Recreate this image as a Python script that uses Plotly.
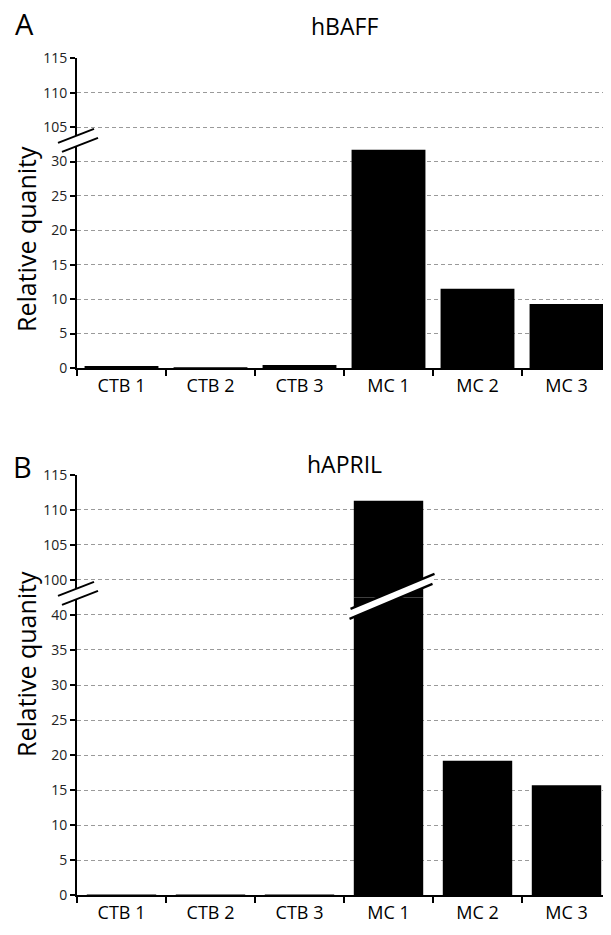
import plotly.graph_objects as go

# ---------------- data ----------------
categories = ["CTB 1", "CTB 2", "CTB 3", "MC 1", "MC 2", "MC 3"]
baff_values = [0.3, 0.05, 0.45, 31.7, 11.5, 9.3]
april_values = [0.05, 0.05, 0.05, 111.3, 19.2, 15.7]

baff_ticks_low = [0, 5, 10, 15, 20, 25, 30]
baff_ticks_high = [105, 110, 115]
april_ticks_low = [0, 5, 10, 15, 20, 25, 30, 35, 40]
april_ticks_high = [100, 105, 110, 115]

panel_letters = ["A", "B"]
panel_titles = ["hBAFF", "hAPRIL"]
y_title = "Relative quanity"

# ---------------- layout geometry (screen pixels) ----------------
SW, SH = 611, 935          # browser window
OFF = 8                    # default body margin of the html page
W, H = SW - OFF, SH - OFF  # figure size so that it ends at the window edge
AXIS_PX = 77               # screen x of the y axis
ML, MR = AXIS_PX - OFF, 0
PW = W - ML - MR
FONT = "Open Sans"

panels = [
    dict(values=baff_values, low=(0, 32.5), high=(102.5, 115),
         ticks_low=baff_ticks_low, ticks_high=baff_ticks_high,
         zero_px=368.0, top_px=58.3, width=0.83,
         letter_xy=(24, 23), title_xy=(344, 26), ytitle_y=239, bar_break=False),
    dict(values=april_values, low=(0, 42.5), high=(97.5, 115),
         ticks_low=april_ticks_low, ticks_high=april_ticks_high,
         zero_px=895.3, top_px=474.7, width=0.78,
         letter_xy=(22, 466), title_xy=(344, 464), ytitle_y=664, bar_break=True),
]


def py(px):
    """screen pixel y -> paper y"""
    return 1 - (px - OFF) / H


def pxx(px):
    """screen pixel x -> paper x"""
    return (px - OFF - ML) / PW


fig = go.Figure()
layout = dict(
    width=W, height=H, margin=dict(l=ML, r=MR, t=0, b=0, pad=0),
    plot_bgcolor="white", paper_bgcolor="white",
    showlegend=False, bargap=0.17,
    font=dict(family=FONT, color="black"),
    shapes=[], annotations=[],
)

grid = dict(showgrid=True, gridcolor="#9a9a9a", gridwidth=1, griddash="4px,3px",
            zeroline=False, showline=True, linecolor="black", linewidth=2,
            ticks="outside", ticklen=5, tickwidth=2, tickcolor="black",
            tickfont=dict(size=14, color="#222222", family=FONT),
            automargin=False, fixedrange=True)

for i, p in enumerate(panels):
    lo_span = p["low"][1] - p["low"][0]
    hi_span = p["high"][1] - p["high"][0]
    unit = (p["zero_px"] - p["top_px"]) / (lo_span + hi_span)
    break_px = p["zero_px"] - lo_span * unit

    xb = f"x{2*i+1}" if i else "x"
    xt = f"x{2*i+2}"
    yb = f"y{2*i+1}" if i else "y"
    yt = f"y{2*i+2}"
    xb_key = "xaxis" + (str(2*i+1) if i else "")
    xt_key = "xaxis" + str(2*i+2)
    yb_key = "yaxis" + (str(2*i+1) if i else "")
    yt_key = "yaxis" + str(2*i+2)

    # bars in lower and upper segments
    for xa, ya in ((xb, yb), (xt, yt)):
        fig.add_trace(go.Bar(x=categories, y=p["values"], xaxis=xa, yaxis=ya,
                             width=p["width"],
                             marker=dict(color="black", line=dict(width=0))))

    layout[xb_key] = dict(domain=[0, 1], anchor=yb, showline=True, linecolor="black", linewidth=2,
                          ticks="outside", tickson="boundaries", ticklen=6, tickwidth=2,
                          tickcolor="black", showgrid=False, zeroline=False,
                          tickfont=dict(size=18, color="black", family=FONT),
                          automargin=False, fixedrange=True)
    layout[xt_key] = dict(domain=[0, 1], anchor=yt, matches=xb, showticklabels=False,
                          showline=False, ticks="", showgrid=False, zeroline=False,
                          fixedrange=True)
    layout[yb_key] = dict(grid, domain=[py(p["zero_px"]), py(break_px)], anchor=xb,
                          range=list(p["low"]), tickvals=p["ticks_low"])
    layout[yt_key] = dict(grid, domain=[py(break_px), py(p["top_px"])], anchor=xt,
                          range=list(p["high"]), tickvals=p["ticks_high"])

    # axis break mark (white band between two slanted lines)
    ax_px = AXIS_PX + 1
    half_w, half_h, gap = 18, 7, 4.5
    cy0 = break_px - 4
    corners = [(ax_px - half_w - 2, cy0 + half_h - gap), (ax_px + half_w - 2, cy0 - half_h - gap),
               (ax_px + half_w + 2, cy0 - half_h + gap), (ax_px - half_w + 2, cy0 + half_h + gap)]
    path = "M " + " L ".join(f"{pxx(cx):.5f},{py(cy):.5f}" for cx, cy in corners) + " Z"
    layout["shapes"].append(dict(type="path", xref="paper", yref="paper", path=path,
                                 fillcolor="white", line=dict(width=0), layer="above"))
    for (ax0, ay0), (ax1, ay1) in ((corners[0], corners[1]), (corners[3], corners[2])):
        layout["shapes"].append(dict(type="line", xref="paper", yref="paper",
                                     x0=pxx(ax0), y0=py(ay0), x1=pxx(ax1), y1=py(ay1),
                                     line=dict(color="black", width=2), layer="above"))

    # break across the bar that exceeds the lower segment
    if p["bar_break"]:
        for idx, v in enumerate(p["values"]):
            if v > p["low"][1]:
                hw_px, hh_px, g = 42, 17.5, 5
                cx = AXIS_PX + (idx + 0.5) * PW / len(categories) + 4
                cy = break_px - 1
                c = [(cx - hw_px, cy + hh_px - g), (cx + hw_px, cy - hh_px - g),
                     (cx + hw_px - 2, cy - hh_px + g), (cx - hw_px - 1, cy + hh_px + g)]
                path = "M " + " L ".join(f"{pxx(a):.5f},{py(b):.5f}" for a, b in c) + " Z"
                layout["shapes"].append(dict(type="path", xref="paper", yref="paper", path=path,
                                             fillcolor="white", line=dict(width=0), layer="above"))
                for (a0, b0), (a1, b1) in ((c[0], c[1]), (c[3], c[2])):
                    layout["shapes"].append(dict(type="line", xref="paper", yref="paper",
                                                 x0=pxx(a0), y0=py(b0), x1=pxx(a1), y1=py(b1),
                                                 line=dict(color="black", width=2.2), layer="above"))

    # texts
    common = dict(xref="paper", yref="paper", showarrow=False,
                  xanchor="center", yanchor="middle")
    lx, ly = p["letter_xy"]
    layout["annotations"].append(dict(common, text=panel_letters[i], x=pxx(lx), y=py(ly),
                                      font=dict(size=29, color="black", family=FONT)))
    tx, ty = p["title_xy"]
    layout["annotations"].append(dict(common, text=panel_titles[i], x=pxx(tx), y=py(ty),
                                      font=dict(size=23, color="black", family=FONT)))
    layout["annotations"].append(dict(common, text=y_title, x=pxx(26), y=py(p["ytitle_y"]),
                                      textangle=-90,
                                      font=dict(size=25, color="black", family=FONT)))

fig.update_layout(**layout)
fig.write_html("out.html")
